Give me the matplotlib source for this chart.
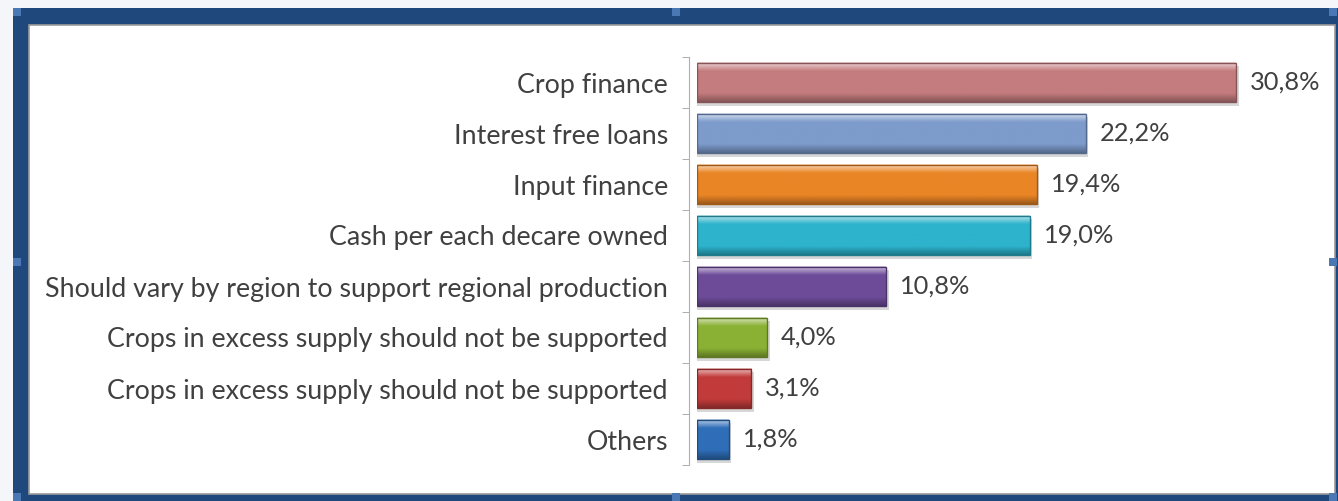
import numpy as np
import matplotlib.pyplot as plt
import matplotlib.colors as mcolors
from matplotlib.patches import Rectangle

categories = ["Crop finance", "Interest free loans", "Input finance",
              "Cash per each decare owned",
              "Should vary by region to support regional production",
              "Crops in excess supply should not be supported",
              "Crops in excess supply should not be supported",
              "Others"]
values = [30.8, 22.2, 19.4, 19.0, 10.8, 4.0, 3.1, 1.8]
value_labels = ["30,8%", "22,2%", "19,4%", "19,0%", "10,8%", "4,0%", "3,1%", "1,8%"]
bar_colors = ["#C47C7E", "#7D9BCB", "#EA8526", "#2DB3CC",
              "#6D4B99", "#8BB134", "#C23B3B", "#2F6EB8"]

plt.rcParams['font.family'] = ['Lato', 'DejaVu Sans']

W, H = 1338, 501
fig = plt.figure(figsize=(W / 100, H / 100), dpi=100)
fig.patch.set_facecolor("#F4F6F9")

# frame (blue border like a selected chart object)
fig.patches.append(Rectangle((13 / W, 0), 1 - 13 / W, 1 - 8 / H, transform=fig.transFigure,
                             facecolor="#1F497D", edgecolor="none", zorder=0))
fig.patches.append(Rectangle((29 / W, 7 / H), (1335 - 29) / W, (476 - 7) / H,
                             transform=fig.transFigure, facecolor="white",
                             edgecolor="#9A9A9A", linewidth=1.2, zorder=1))
for hx, hy in [(13, 485), (672, 485), (1329, 485), (1329, 235), (13, 235), (672, 0), (1329, 0), (13, 0)]:
    fig.patches.append(Rectangle((hx / W, hy / H), 8 / W, 8 / H, transform=fig.transFigure,
                                 facecolor="#4A78B4", edgecolor="none", zorder=2))

x0, x1 = 697, 1300
ax = fig.add_axes([x0 / W, 36 / H, (x1 - x0) / W, (465 - 57) / H])
ax.set_zorder(5)
ax.set_facecolor("none")
xmax = 30.8 * (x1 - x0) / (1236 - x0)
y = np.arange(len(categories))

bh = 0.78
t = np.linspace(0, 1, 64)
for i, (v, c) in enumerate(zip(values, bar_colors)):
    rgb = np.array(mcolors.to_rgb(c))
    dark = rgb * 0.68
    light = 1 - (1 - rgb) * 0.3
    # vertical gradient: light at top, base colour, darker bottom
    shade = np.where(t[:, None] < 0.22,
                     light + (rgb - light) * (t[:, None] / 0.22),
                     np.where(t[:, None] < 0.78, rgb,
                              rgb + (dark - rgb) * ((t[:, None] - 0.78) / 0.22)))
    img = np.repeat(shade[:, None, :], 2, axis=1)
    # shadow
    ax.barh(y[i] + 0.07, v + 0.15, height=bh, color="#BDBDBD", alpha=0.6, zorder=1)
    ax.imshow(img, extent=(0, v, y[i] + bh / 2, y[i] - bh / 2), aspect="auto",
              interpolation="bilinear", zorder=2)
    ax.barh(y[i], v, height=bh, facecolor="none", edgecolor=dark, linewidth=1.0, zorder=3)
    ax.text(v + 0.8, y[i], value_labels[i], va="center", ha="left",
            fontsize=18.3, color="#404040")

ax.set_xlim(0, xmax)
ax.set_ylim(len(categories) - 0.5, -0.5)
ax.set_aspect("auto")
ax.set_yticks(y)
ax.set_yticklabels(categories)
ax.tick_params(axis="y", which="major", length=0, pad=15, labelsize=19.3, labelcolor="#404040")
ax.set_yticks(np.arange(len(categories) + 1) - 0.5, minor=True)
ax.tick_params(axis="y", which="minor", length=5, color="#A0A0A0", direction="out")
ax.set_xticks([])
for s in ["top", "right", "bottom"]:
    ax.spines[s].set_visible(False)
ax.spines["left"].set_position(("outward", 6))
ax.spines["left"].set_color("#B0B0B0")

plt.savefig("out.png", dpi=100)
